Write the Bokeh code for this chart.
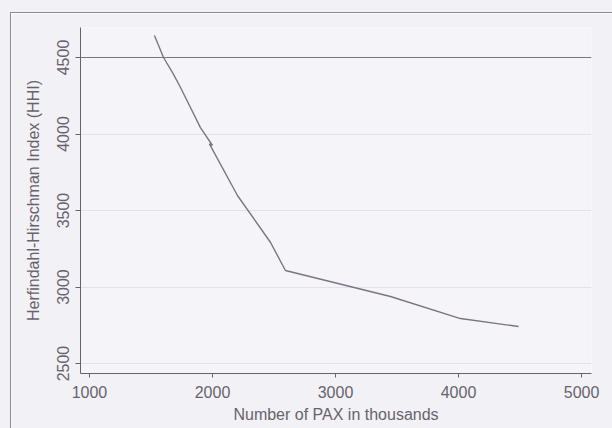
from bokeh.plotting import figure
from bokeh.models import FixedTicker, Range1d, Span
from bokeh.embed import file_html
from bokeh.resources import INLINE

# Passenger volume (thousands) vs. market concentration
pax_thousands = [1528, 1602, 1680, 1740, 1820, 1902, 2000, 1975, 2203, 2472, 2593, 3447, 4016, 4488]
hhi = [4644, 4500, 4395, 4304, 4175, 4042, 3925, 3935, 3598, 3291, 3108, 2938, 2794, 2742]

x_ticks = [1000, 2000, 3000, 4000, 5000]
y_ticks = [2500, 3000, 3500, 4000, 4500]
hhi_reference = 4500

BG = "#f2f1f6"
PLOT_BG = "#f5f4f9"
INK = "#67636c"
CURVE = "#7d7482"
FRAME = "#8d8892"
FONT = "Liberation Sans"

p = figure(
    width=602, height=416,
    output_backend="svg", toolbar_location=None,
    x_range=Range1d(927, 5081), y_range=Range1d(2435, 4696),
    min_border_left=69, min_border_right=22, min_border_top=14, min_border_bottom=56,
    background_fill_color=PLOT_BG, border_fill_color=BG,
    outline_line_color=None,
)

# outer graph-region frame around the whole figure
p.styles = {
    "margin": "12px 0 0 10px",
    "border-left": f"1px solid {FRAME}",
    "border-top": f"1px solid {FRAME}",
    "box-shadow": f"0 0 0 40px {BG}",
}

p.xgrid.visible = False
p.ygrid.ticker = FixedTicker(ticks=y_ticks)
p.ygrid.grid_line_color = "#e3e1e9"
p.ygrid.grid_line_width = 1

p.line(pax_thousands, hhi, line_color=CURVE, line_width=1.4)
p.add_layout(Span(location=hhi_reference, dimension="width", line_color="#7a7680", line_width=1.2))

for ax in (p.xaxis[0], p.yaxis[0]):
    ax.axis_line_color = INK
    ax.major_tick_line_color = INK
    ax.minor_tick_line_color = None
    ax.major_tick_in = 0
    ax.major_label_text_font = FONT
    ax.major_label_text_font_size = "16px"
    ax.major_label_text_color = INK
    ax.axis_label_text_font = FONT
    ax.axis_label_text_font_size = "16px"
    ax.axis_label_text_font_style = "normal"
    ax.axis_label_text_color = INK

p.xaxis.ticker = FixedTicker(ticks=x_ticks)
p.yaxis.ticker = FixedTicker(ticks=y_ticks)
p.xaxis.major_tick_out = 4
p.yaxis.major_tick_out = 5
p.xaxis.major_label_standoff = 8
p.yaxis.major_label_standoff = 6
p.yaxis.major_label_orientation = "vertical"
p.xaxis.axis_label = "Number of PAX in thousands"
p.yaxis.axis_label = "Herfindahl-Hirschman Index (HHI)"
p.xaxis.axis_label_standoff = 5
p.yaxis.axis_label_standoff = 13

open("out.html", "w").write(file_html(p, INLINE))
